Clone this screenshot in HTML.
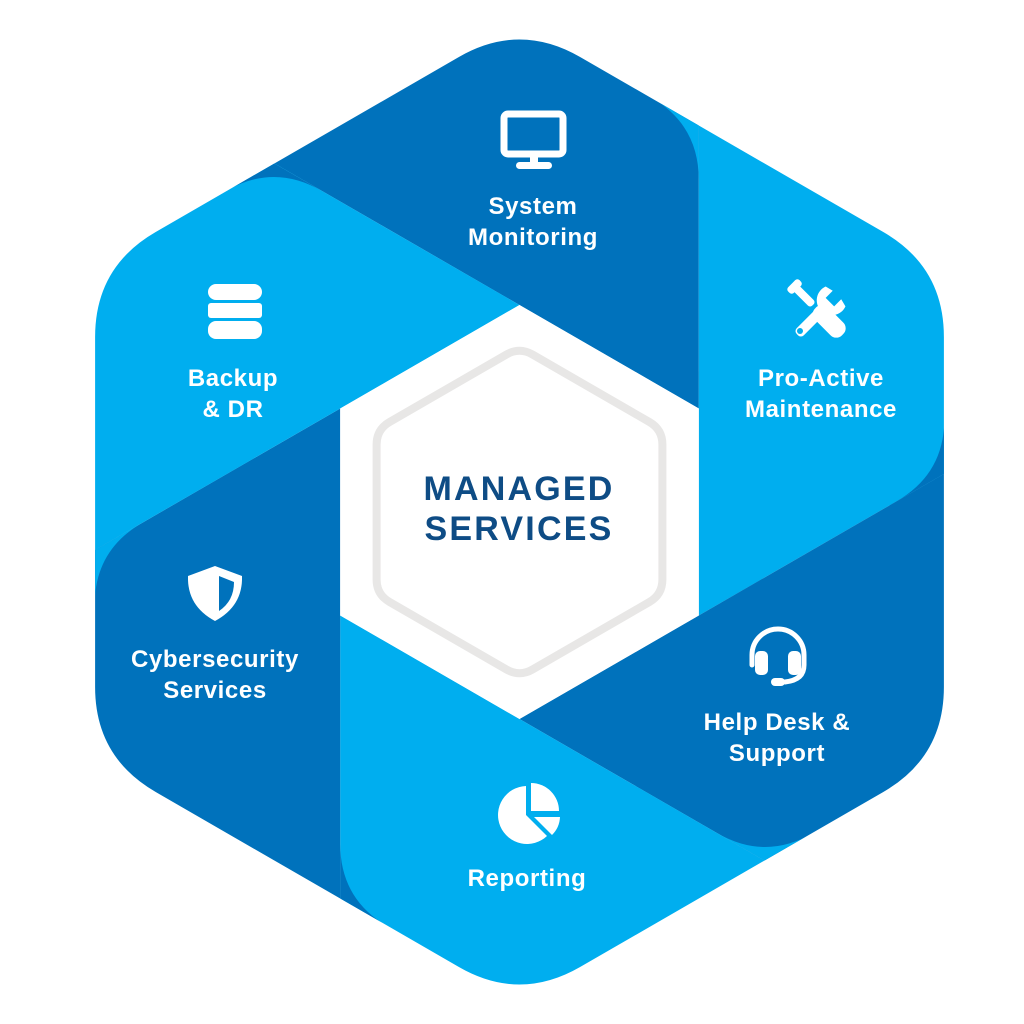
<!DOCTYPE html>
<html><head><meta charset="utf-8"><style>
html,body{margin:0;padding:0;background:#fff;width:1024px;height:1024px;overflow:hidden;}
svg{display:block;}
.lbl{font-family:"Liberation Sans",sans-serif;font-weight:bold;font-size:24px;fill:#fff;text-anchor:middle;letter-spacing:0.6px;}
.ttl{font-family:"Liberation Sans",sans-serif;font-weight:bold;font-size:34px;fill:#0E4C85;text-anchor:middle;letter-spacing:2.2px;}
</style></head><body>
<svg width="1024" height="1024" viewBox="0 0 1024 1024" xmlns="http://www.w3.org/2000/svg">
<defs>
<clipPath id="oc"><path transform="translate(519.5,512)" d="M -60.6,-455 Q 0,-490 60.6,-455 L 363.8,-280 Q 424.4,-245 424.4,-175 L 424.4,175 Q 424.4,245 363.8,280 L 60.6,455 Q 0,490 -60.6,455 L -363.8,280 Q -424.4,245 -424.4,175 L -424.4,-175 Q -424.4,-245 -363.8,-280 Z"/></clipPath>
<polygon id="seg" points="0,-207 179.3,-103.5 179.3,-800 -692.8,-800 -692.8,-607"/>
<path id="fil" d="M -198,-321.3 L -245.6,-348.8 L -293.2,-321.3 Q -245.6,-348.8 -198,-321.3 Z"/>
</defs>
<g clip-path="url(#oc)">
<g transform="translate(519.5,512)">
<use href="#seg" fill="#0072BC" transform="rotate(0)"/>
<use href="#seg" fill="#00AEEF" transform="rotate(60)"/>
<use href="#seg" fill="#0072BC" transform="rotate(120)"/>
<use href="#seg" fill="#00AEEF" transform="rotate(180)"/>
<use href="#seg" fill="#0072BC" transform="rotate(240)"/>
<use href="#seg" fill="#00AEEF" transform="rotate(300)"/>
<use href="#fil" fill="#0072BC" transform="rotate(0)"/>
<use href="#fil" fill="#00AEEF" transform="rotate(60)"/>
<use href="#fil" fill="#0072BC" transform="rotate(120)"/>
<use href="#fil" fill="#00AEEF" transform="rotate(180)"/>
<use href="#fil" fill="#0072BC" transform="rotate(240)"/>
<use href="#fil" fill="#00AEEF" transform="rotate(300)"/>
<polygon points="0,-207 179.3,-103.5 179.3,103.5 0,207 -179.3,103.5 -179.3,-103.5" fill="#fff"/>
<path d="M -13,-157.5 Q 0,-165 13,-157.5 L 129.9,-90 Q 142.9,-82.5 142.9,-67.5 L 142.9,67.5 Q 142.9,82.5 129.9,90 L 13,157.5 Q 0,165 -13,157.5 L -129.9,90 Q -142.9,82.5 -142.9,67.5 L -142.9,-67.5 Q -142.9,-82.5 -129.9,-90 Z" fill="none" stroke="#E8E7E6" stroke-width="8"/>
</g>
</g>
<text class="ttl" x="519" y="500">MANAGED</text>
<text class="ttl" x="519" y="540">SERVICES</text>

<text class="lbl" x="533" y="214">System</text>
<text class="lbl" x="533" y="245">Monitoring</text>
<text class="lbl" x="233" y="386">Backup</text>
<text class="lbl" x="233" y="417">&amp; DR</text>
<text class="lbl" x="821" y="386">Pro-Active</text>
<text class="lbl" x="821" y="417">Maintenance</text>
<text class="lbl" x="215" y="667">Cybersecurity</text>
<text class="lbl" x="215" y="698">Services</text>
<text class="lbl" x="777" y="730">Help Desk &amp;</text>
<text class="lbl" x="777" y="761">Support</text>
<text class="lbl" x="527" y="886">Reporting</text>

<!-- monitor -->
<rect x="504" y="114" width="59" height="40" rx="4" fill="none" stroke="#fff" stroke-width="7"/>
<rect x="530" y="156" width="8" height="8" fill="#fff"/>
<rect x="516" y="162" width="36" height="7" rx="3.5" fill="#fff"/>
<!-- database -->
<rect x="208" y="284" width="54" height="16" rx="8" fill="#fff"/>
<rect x="208" y="303" width="54" height="15" rx="3" fill="#fff"/>
<rect x="208" y="321" width="54" height="18" rx="8" fill="#fff"/>
<!-- tools -->
<g fill="#fff">
<g transform="translate(820,312) rotate(-45)">
<rect x="-4" y="-36" width="8" height="26" rx="3"/>
<rect x="-8" y="-40" width="16" height="8" rx="3"/>
<rect x="-9" y="-6" width="18" height="38" rx="8"/>
</g>
<g transform="translate(820,312) rotate(45)">
<rect x="-5" y="-6" width="10" height="38" rx="4"/>
<path d="M -14,-22 A 15 15 0 1 0 14,-22 L 6,-24 L 6,-14 L -6,-14 L -6,-24 Z"/>
</g>
<circle cx="800" cy="331" r="3" fill="#00AEEF"/>
</g>
<!-- shield -->
<path d="M 215,566 L 242,576 Q 243,606 215,621 Q 187,606 188,576 Z" fill="#fff"/>
<path d="M 219,576 L 234,582 Q 234,601 219,611 Z" fill="#0072BC"/>
<!-- headset -->
<g fill="none" stroke="#fff" stroke-width="5" stroke-linecap="round">
<path d="M 752,665 L 752,655 A 26 26 0 0 1 804,655 L 804,665 Q 804,680 785,682"/>
</g>
<rect x="755" y="651" width="13" height="24" rx="5" fill="#fff"/>
<rect x="788" y="651" width="13" height="24" rx="5" fill="#fff"/>
<rect x="771" y="678" width="14" height="8" rx="4" fill="#fff"/>
<!-- pie -->
<path d="M 526,786 A 29 29 0 1 0 547,836 L 526,815 Z" fill="#fff"/>
<path d="M 531,783 A 28 28 0 0 1 559,811 L 531,811 Z" fill="#fff"/>
<path d="M 534,817 L 560,817 A 27 27 0 0 1 552,835 Z" fill="#fff"/>
</svg>
</body></html>
